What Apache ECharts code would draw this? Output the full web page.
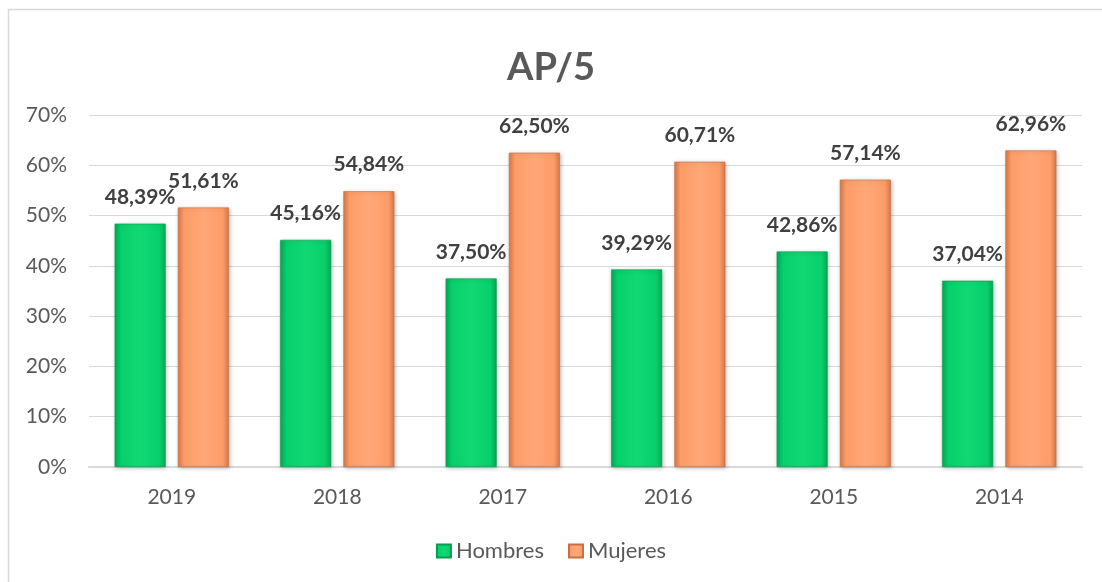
<!DOCTYPE html>
<html lang="es">
<head>
    <meta charset="UTF-8">
    <script src="https://cdn.jsdelivr.net/npm/echarts@6/dist/echarts.min.js"></script>
    <title>AP/5</title>
    <style>
        html, body { margin: 0; padding: 0; background: #fff; }
        #main { width: 1102px; height: 582px; }
    </style>
</head>
<body>
<div id="main"></div>
<script>
    var anios = ['2019', '2018', '2017', '2016', '2015', '2014'];
    var hombres = [48.39, 45.16, 37.50, 39.29, 42.86, 37.04];
    var mujeres = [51.61, 54.84, 62.50, 60.71, 57.14, 62.96];
    var yTicks = [0, 10, 20, 30, 40, 50, 60, 70];

    var fuente = 'Lato, "Open Sans", sans-serif';

    function pct(v) {
        return v.toFixed(2).replace('.', ',') + '%';
    }

    function relleno(claro, medio, oscuro) {
        return new echarts.graphic.LinearGradient(0, 0, 1, 0, [
            {offset: 0, color: oscuro},
            {offset: 0.12, color: medio},
            {offset: 0.5, color: claro},
            {offset: 0.88, color: medio},
            {offset: 1, color: oscuro}
        ]);
    }

    var myChart = echarts.init(document.getElementById('main'));

    var etiqueta = {
        show: true,
        position: 'top',
        distance: 16,
        color: '#404040',
        fontFamily: fuente,
        fontWeight: 'bold',
        fontSize: 21,
        formatter: function (p) { return pct(p.value); }
    };

    var option = {
        backgroundColor: '#fff',
        textStyle: {fontFamily: fuente},
        title: {
            text: 'AP/5',
            left: 'center',
            top: 44,
            textStyle: {fontSize: 38, fontWeight: 'bold', color: '#595959', fontFamily: fuente}
        },
        graphic: [{
            type: 'rect',
            shape: {x: 8.5, y: 9.5, width: 1200, height: 700},
            style: {fill: 'none', stroke: '#d9d9d9', lineWidth: 1.5},
            silent: true
        }],
        legend: {
            bottom: 15,
            left: 'center',
            icon: 'rect',
            itemWidth: 14,
            itemHeight: 13,
            itemGap: 24,
            textStyle: {fontSize: 22, color: '#595959', fontFamily: fuente},
            data: ['Hombres', 'Mujeres']
        },
        grid: {left: 89, right: 20, top: 115, bottom: 115},
        xAxis: {
            type: 'category',
            data: anios,
            axisTick: {show: false},
            axisLine: {lineStyle: {color: '#d9d9d9', width: 2}},
            axisLabel: {color: '#595959', fontSize: 21, margin: 20, fontFamily: fuente}
        },
        yAxis: {
            type: 'value',
            min: yTicks[0],
            max: yTicks[yTicks.length - 1],
            interval: 10,
            axisLine: {show: false},
            axisTick: {show: false},
            splitLine: {lineStyle: {color: '#d9d9d9', width: 1}},
            axisLabel: {
                color: '#595959', fontSize: 21, margin: 22, fontFamily: fuente,
                formatter: function (v) { return v + '%'; }
            }
        },
        series: [
            {
                name: 'Hombres',
                type: 'bar',
                data: hombres,
                barWidth: 51,
                barGap: '24%',
                itemStyle: {
                    color: relleno('#12d874', '#06cf6b', '#04a857'),
                    borderColor: '#0a9a52',
                    borderWidth: 0.6,
                    shadowBlur: 4,
                    shadowColor: 'rgba(0,0,0,0.25)',
                    shadowOffsetX: 1,
                    shadowOffsetY: 1
                },
                label: etiqueta
            },
            {
                name: 'Mujeres',
                type: 'bar',
                data: mujeres,
                barWidth: 51,
                itemStyle: {
                    color: relleno('#ffa777', '#fd9c68', '#d7794a'),
                    borderColor: '#c56f44',
                    borderWidth: 0.6,
                    shadowBlur: 4,
                    shadowColor: 'rgba(0,0,0,0.25)',
                    shadowOffsetX: 1,
                    shadowOffsetY: 1
                },
                label: etiqueta
            }
        ]
    };

    myChart.setOption(option);
</script>
</body>
</html>
